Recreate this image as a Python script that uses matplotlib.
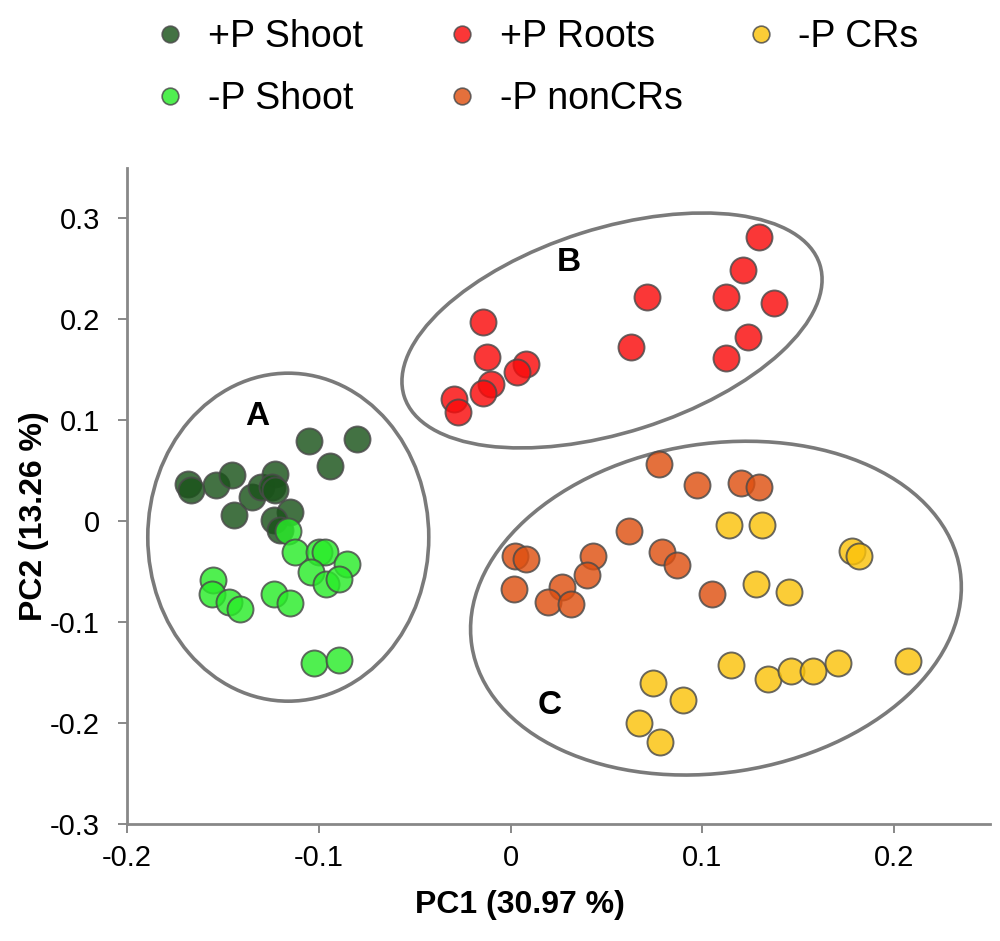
import matplotlib
matplotlib.use("Agg")
import matplotlib.pyplot as plt
import matplotlib.transforms as mtransforms
from matplotlib.patches import Ellipse
from matplotlib.lines import Line2D

plt.rcParams['font.family'] = ['Liberation Sans', 'DejaVu Sans']

# PCA scores
plus_shoot_x = [-0.1684, -0.1666, -0.1537, -0.1451, -0.1442, -0.1347, -0.1303, -0.1226,
                -0.1243, -0.1226, -0.1148, -0.1234, -0.1200, -0.1049, -0.0799, -0.0940]
plus_shoot_y = [0.0373, 0.0307, 0.0356, 0.0455, 0.0059, 0.0241, 0.0340, 0.0472,
                0.0340, 0.0307, 0.0092, 0.0010, -0.0090, 0.0795, 0.0812, 0.0545]

minus_shoot_x = [-0.1160, -0.1122, -0.1001, -0.0966, -0.0854, -0.1039, -0.0963, -0.0897,
                 -0.1551, -0.1555, -0.1468, -0.1411, -0.1234, -0.1148, -0.1027, -0.0897]
minus_shoot_y = [-0.0096, -0.0304, -0.0304, -0.0304, -0.0419, -0.0502, -0.0617, -0.0574,
                 -0.0584, -0.0720, -0.0799, -0.0865, -0.0720, -0.0815, -0.1409, -0.1376]

plus_roots_x = [0.1298, 0.1212, 0.0714, 0.1126, 0.1376, 0.1238, 0.1126, 0.0628,
                -0.0145, -0.0123, 0.0083, 0.0036, -0.0102, -0.0145, -0.0297, -0.0275]
plus_roots_y = [0.2815, 0.2490, 0.2220, 0.2220, 0.2160, 0.1830, 0.1620, 0.1726,
                0.1970, 0.1627, 0.1560, 0.1480, 0.1356, 0.1270, 0.1215, 0.1080]

noncrs_x = [0.0776, 0.0974, 0.1203, 0.1293, 0.0616, 0.0788, 0.0866, 0.0429,
            0.0399, 0.0022, 0.0083, 0.0016, 0.0266, 0.0197, 0.0313, 0.1051]
noncrs_y = [0.0564, 0.0356, 0.0380, 0.0340, -0.0096, -0.0304, -0.0430, -0.0340,
            -0.0535, -0.0340, -0.0370, -0.0676, -0.0650, -0.0805, -0.0820, -0.0723]

crs_x = [0.1137, 0.1312, 0.1779, 0.1817, 0.1278, 0.1454, 0.1148, 0.0745,
         0.0897, 0.0668, 0.0780, 0.1342, 0.1463, 0.1575, 0.1705, 0.2073]
crs_y = [-0.0033, -0.0033, -0.0297, -0.0347, -0.0617, -0.0700, -0.1420, -0.1607,
         -0.1772, -0.2003, -0.2190, -0.1568, -0.1485, -0.1485, -0.1403, -0.1383]

series_names = ['+P Shoot', '-P Shoot', '+P Roots', '-P nonCRs', '-P CRs']
series_colors = ['#1a531a', '#29ec29', '#f90b0b', '#de5011', '#fbc20b']

# group ellipses: centre in data units, size in pixels, angle in degrees
group_names = ['A', 'B', 'C']
group_label_x = [-0.132, 0.0304, 0.0206]
group_label_y = [0.1033, 0.2567, -0.183]
ellipse_cx = [-0.1159, 0.0529, 0.1071]
ellipse_cy = [-0.0158, 0.1890, -0.0861]
ellipse_w = [281, 436, 494]
ellipse_h = [328, 204, 329]
ellipse_angle = [0, 17.6, 8.8]

fig = plt.figure(figsize=(10, 9.41), dpi=100)
ax = fig.add_axes([0.127, 0.1243, 0.863, 0.6972])

all_x = [plus_shoot_x, minus_shoot_x, plus_roots_x, noncrs_x, crs_x]
all_y = [plus_shoot_y, minus_shoot_y, plus_roots_y, noncrs_y, crs_y]
for xs, ys, name, col in zip(all_x, all_y, series_names, series_colors):
    ax.scatter(xs, ys, s=350, c=col, alpha=0.82, edgecolors='#4a4a4a',
               linewidths=1.4, label=name, zorder=3)

ax.set_xlim(-0.2, 0.25)
ax.set_ylim(-0.3, 0.35)

for cx, cy, w, h, ang in zip(ellipse_cx, ellipse_cy, ellipse_w, ellipse_h, ellipse_angle):
    tr = fig.dpi_scale_trans + mtransforms.ScaledTranslation(cx, cy, ax.transData)
    ax.add_patch(Ellipse((0, 0), w / 100, h / 100, angle=ang, transform=tr,
                         fill=False, edgecolor='#7a7a7a', linewidth=2.6, zorder=2))

for name, lx, ly in zip(group_names, group_label_x, group_label_y):
    ax.text(lx, ly, name, fontsize=24, fontweight='bold', ha='center', va='center')

ax.set_xticks([-0.2, -0.1, 0, 0.1, 0.2])
ax.set_xticklabels(['-0.2', '-0.1', '0', '0.1', '0.2'])
ax.set_yticks([-0.3, -0.2, -0.1, 0, 0.1, 0.2, 0.3])
ax.set_yticklabels(['-0.3', '-0.2', '-0.1', '0', '0.1', '0.2', '0.3'])
ax.tick_params(axis='both', direction='out', length=6.5, width=1.4, color='#888888',
               labelsize=21)
ax.tick_params(axis='y', pad=13)
ax.tick_params(axis='x', pad=8)

for side in ['top', 'right']:
    ax.spines[side].set_visible(False)
for side in ['left', 'bottom']:
    ax.spines[side].set_color('#888888')
    ax.spines[side].set_linewidth(2)

ax.set_xlabel('PC1 (30.97 %)', fontsize=23, fontweight='bold')
ax.set_ylabel('PC2 (13.26 %)', fontsize=23, fontweight='bold')
ax.xaxis.set_label_coords(0.4556, -0.1)
ax.yaxis.set_label_coords(-0.09, 0.47)

# legend laid out as three columns, like the reference
col_groups = [[0, 1], [2, 3], [4]]
col_marker_x = [170, 462, 761]
for idxs, mx in zip(col_groups, col_marker_x):
    handles = [Line2D([], [], marker='o', linestyle='none', markersize=12,
                      markerfacecolor=series_colors[i], alpha=0.82,
                      markeredgecolor='#4a4a4a', markeredgewidth=1.2) for i in idxs]
    labels = [series_names[i] for i in idxs]
    fs = 27
    x0 = (mx - fs * 100 / 72 * 0.5) / 1000
    fig.legend(handles, labels, loc='upper left', bbox_to_anchor=(x0, 1 - 19 / 941),
               frameon=False, fontsize=fs, handlelength=1.0, handletextpad=0.5,
               borderpad=0, borderaxespad=0, labelspacing=0.7)

fig.savefig('out.png', dpi=100)
